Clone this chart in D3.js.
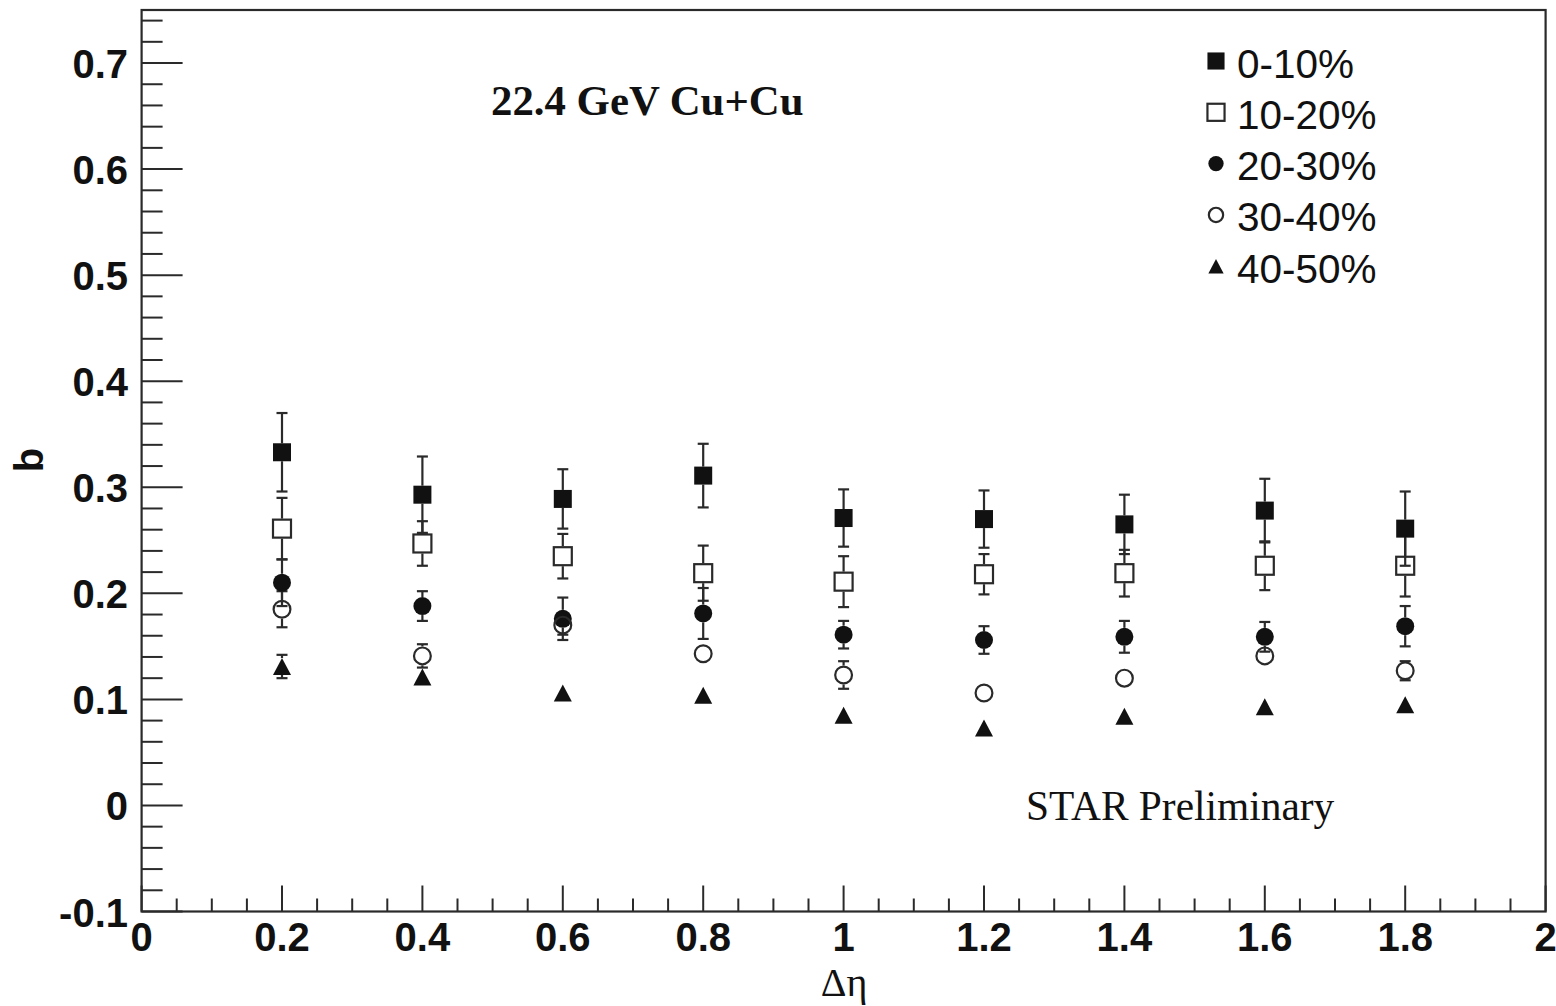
<!DOCTYPE html>
<html>
<head>
<meta charset="utf-8">
<script src="https://cdn.jsdelivr.net/npm/d3@7"></script>
<style>
  html, body { margin: 0; padding: 0; background: #fff; }
  svg { display: block; }
</style>
</head>
<body>
<svg id="chart" width="1556" height="1006"></svg>
<script>
// Δη bins
const deta = [0.2, 0.4, 0.6, 0.8, 1.0, 1.2, 1.4, 1.6, 1.8];

// centrality classes
const centralities = ["0-10%", "10-20%", "20-30%", "30-40%", "40-50%"];
const markerKinds = ["squareFilled", "squareOpen", "circleFilled", "circleOpen", "triangleFilled"];

// b values and statistical errors per centrality class
const b_0_10   = [0.333, 0.293, 0.289, 0.311, 0.271, 0.270, 0.265, 0.278, 0.261];
const e_0_10   = [0.037, 0.036, 0.028, 0.030, 0.027, 0.027, 0.028, 0.030, 0.035];
const b_10_20  = [0.261, 0.247, 0.235, 0.219, 0.211, 0.218, 0.219, 0.226, 0.226];
const e_10_20  = [0.029, 0.021, 0.021, 0.026, 0.024, 0.019, 0.022, 0.023, 0.029];
const b_20_30  = [0.210, 0.188, 0.176, 0.181, 0.161, 0.156, 0.159, 0.159, 0.169];
const e_20_30  = [0.022, 0.014, 0.020, 0.024, 0.013, 0.013, 0.015, 0.014, 0.019];
const b_30_40  = [0.185, 0.141, 0.170, 0.143, 0.123, 0.106, 0.120, 0.141, 0.127];
const e_30_40  = [0.017, 0.011, 0.009, 0.007, 0.013, 0.007, 0.007, 0.007, 0.009];
const b_40_50  = [0.131, 0.121, 0.106, 0.104, 0.085, 0.073, 0.084, 0.093, 0.095];
const e_40_50  = [0.011, 0.008, 0.005, 0.005, 0.005, 0.005, 0.005, 0.005, 0.005];

const values = [b_0_10, b_10_20, b_20_30, b_30_40, b_40_50];
const errors = [e_0_10, e_10_20, e_20_30, e_30_40, e_40_50];

// axis tick labels
const xTickValues = [0, 0.2, 0.4, 0.6, 0.8, 1, 1.2, 1.4, 1.6, 1.8, 2];
const yTickValues = [-0.1, 0, 0.1, 0.2, 0.3, 0.4, 0.5, 0.6, 0.7];

const xDomain = [0, 2];
const yDomain = [-0.1, 0.75];

const title = "22.4 GeV Cu+Cu";
const stamp = "STAR Preliminary";
const xTitle = "Δη";
const yTitle = "b";

// ---------------------------------------------------------------
const svg = d3.select("#chart");
const frame = { left: 141.6, right: 1545.6, top: 10, bottom: 911.5 };

const x = d3.scaleLinear().domain(xDomain).range([frame.left, frame.right]);
const y = d3.scaleLinear().domain(yDomain).range([frame.bottom, frame.top]);

const ink = "#111";
const lineInk = "#2a2a2a";

// ticks (drawn inward)
const ticks = svg.append("g").attr("stroke", lineInk).attr("stroke-width", 2);
const yMinor = d3.range(-0.1, 0.7501, 0.02).map(v => Math.round(v * 100) / 100);
ticks.selectAll("line.ym").data(yMinor).join("line")
  .attr("x1", frame.left).attr("x2", v => frame.left + (Math.abs(Math.round(v * 10) - v * 10) < 1e-6 ? 41 : 21))
  .attr("y1", v => y(v)).attr("y2", v => y(v));
const xMinor = d3.range(0, 2.0001, 0.05).map(v => Math.round(v * 100) / 100);
ticks.selectAll("line.xm").data(xMinor).join("line")
  .attr("y1", frame.bottom).attr("y2", v => frame.bottom - (Math.abs(Math.round(v * 5) - v * 5) < 1e-6 ? 26 : 13))
  .attr("x1", v => x(v)).attr("x2", v => x(v));

// frame
svg.append("rect")
  .attr("x", frame.left).attr("y", frame.top)
  .attr("width", frame.right - frame.left).attr("height", frame.bottom - frame.top)
  .attr("fill", "none").attr("stroke", lineInk).attr("stroke-width", 2.2);

// tick labels
const fmt = v => (Math.round(v * 10) / 10).toString();
svg.append("g").selectAll("text").data(yTickValues).join("text")
  .attr("x", 128).attr("y", v => y(v) + 15)
  .attr("text-anchor", "end")
  .attr("font-family", "Liberation Sans, Arial, sans-serif")
  .attr("font-weight", "bold").attr("font-size", 40).attr("fill", ink)
  .text(fmt);
svg.append("g").selectAll("text").data(xTickValues).join("text")
  .attr("x", v => x(v)).attr("y", 951)
  .attr("text-anchor", "middle")
  .attr("font-family", "Liberation Sans, Arial, sans-serif")
  .attr("font-weight", "bold").attr("font-size", 40).attr("fill", ink)
  .text(fmt);

// axis titles
svg.append("text")
  .attr("x", 844).attr("y", 996).attr("text-anchor", "middle")
  .attr("font-family", "Liberation Serif, Times New Roman, serif")
  .attr("font-size", 40).attr("fill", ink).text(xTitle);
svg.append("text")
  .attr("transform", "translate(43,460) rotate(-90)").attr("text-anchor", "middle")
  .attr("font-family", "Liberation Sans, Arial, sans-serif")
  .attr("font-weight", "bold").attr("font-size", 40).attr("fill", ink).text(yTitle);

// annotations
svg.append("text")
  .attr("x", 491).attr("y", 115)
  .attr("font-family", "Liberation Serif, Times New Roman, serif")
  .attr("font-weight", "bold").attr("font-size", 42.8).attr("fill", ink).text(title);
svg.append("text")
  .attr("x", 1026).attr("y", 820)
  .attr("font-family", "Liberation Serif, Times New Roman, serif")
  .attr("font-size", 41.4).attr("fill", ink).text(stamp);

// marker drawing
const half = { squareFilled: 9, squareOpen: 10, circleFilled: 9, circleOpen: 9.5, triangleFilled: 8.5 };

function drawMarker(g, kind, cx, cy, scale) {
  const s = scale || 1;
  if (kind === "squareFilled") {
    g.append("rect").attr("x", cx - 9 * s).attr("y", cy - 9 * s)
      .attr("width", 18 * s).attr("height", 18 * s).attr("fill", ink);
  } else if (kind === "squareOpen") {
    g.append("rect").attr("x", cx - 9 * s).attr("y", cy - 9 * s)
      .attr("width", 18 * s).attr("height", 18 * s)
      .attr("fill", "none").attr("stroke", lineInk).attr("stroke-width", 2.2);
  } else if (kind === "circleFilled") {
    g.append("circle").attr("cx", cx).attr("cy", cy).attr("r", 9 * s).attr("fill", ink);
  } else if (kind === "circleOpen") {
    g.append("circle").attr("cx", cx).attr("cy", cy).attr("r", 8.4 * s)
      .attr("fill", "none").attr("stroke", lineInk).attr("stroke-width", 2.2);
  } else {
    const w = 9 * s, h = 8.5 * s;
    g.append("path")
      .attr("d", `M${cx - w},${cy + h}L${cx + w},${cy + h}L${cx},${cy - h}Z`)
      .attr("fill", ink);
  }
}

// error bars (skipping the marker interior) then markers
const plot = svg.append("g");
values.forEach((vals, si) => {
  const kind = markerKinds[si];
  const hm = half[kind];
  const eg = plot.append("g").attr("stroke", lineInk).attr("stroke-width", 2.2);
  vals.forEach((v, i) => {
    const px = x(deta[i]);
    const py = y(v);
    const yHi = y(v + errors[si][i]);
    const yLo = y(v - errors[si][i]);
    if (py - yHi > hm) {
      eg.append("line").attr("x1", px).attr("x2", px).attr("y1", yHi).attr("y2", py - hm);
      eg.append("line").attr("x1", px - 5.5).attr("x2", px + 5.5).attr("y1", yHi).attr("y2", yHi);
    }
    if (yLo - py > hm) {
      eg.append("line").attr("x1", px).attr("x2", px).attr("y1", py + hm).attr("y2", yLo);
      eg.append("line").attr("x1", px - 5.5).attr("x2", px + 5.5).attr("y1", yLo).attr("y2", yLo);
    }
  });
});
values.forEach((vals, si) => {
  const mg = plot.append("g");
  vals.forEach((v, i) => drawMarker(mg, markerKinds[si], x(deta[i]), y(v), 1));
});

// legend
const legend = svg.append("g");
centralities.forEach((label, i) => {
  const cy = 64 + i * 51.3;
  const kind = markerKinds[i];
  const sc = kind.startsWith("square") ? 0.95 : 0.85;
  drawMarker(legend, kind, 1216, cy - 3, sc);
  legend.append("text")
    .attr("x", 1237).attr("y", cy + 13.5)
    .attr("font-family", "Liberation Sans, Arial, sans-serif")
    .attr("font-size", 40.5).attr("fill", ink)
    .text(label);
});
</script>
</body>
</html>
